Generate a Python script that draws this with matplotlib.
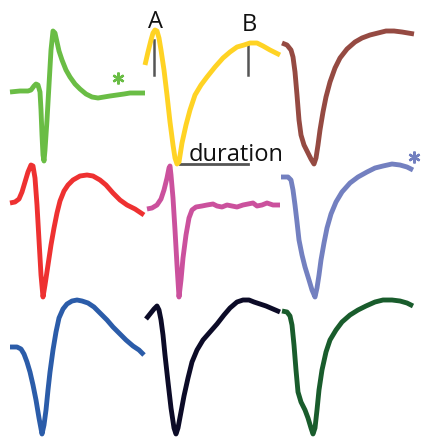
import numpy as np
import matplotlib.pyplot as plt

# waveform traces, (x, y) in canvas pixel units (y grows downward)
green_x = [10, 20, 28, 31, 34, 36, 38, 40, 41, 42, 43, 44, 45, 47, 49, 51, 53, 55, 57, 59, 62, 66, 70, 75, 80, 86, 92, 98, 104, 110, 117, 124, 130, 137, 145]
green_y = [92, 91, 91, 90, 86, 84, 85, 92, 110, 135, 155, 161, 150, 120, 85, 50, 31, 33, 42, 51, 60, 70, 77, 84, 89, 94, 97, 98, 97, 96, 95, 94, 93, 93, 93]

yellow_x = [145, 148, 151, 153, 155, 157, 159, 161, 164, 167, 170, 173, 175, 177, 179, 182, 186, 190, 195, 201, 207, 215, 223, 230, 237, 244, 250, 257, 263, 270, 280]
yellow_y = [65, 52, 40, 33, 30, 31, 38, 50, 70, 95, 122, 145, 158, 164, 162, 143, 125, 110, 95, 85, 77, 67, 58, 52, 47, 45, 43, 43, 46, 50, 55]

brown_x = [282, 287, 291, 293, 295, 297, 299, 301, 304, 308, 311, 314, 316, 318, 320, 323, 326, 330, 335, 340, 347, 355, 362, 370, 378, 386, 394, 402, 414]
brown_y = [43, 45, 50, 57, 72, 95, 120, 135, 145, 153, 159, 164, 158, 145, 130, 112, 97, 82, 68, 58, 49, 42, 38, 35, 33, 31, 31, 32, 34]

red_x = [10, 15, 19, 22, 25, 28, 31, 33, 35, 37, 39, 41, 43, 45, 48, 51, 54, 57, 60, 64, 68, 73, 80, 87, 93, 100, 106, 113, 120, 127, 135, 144]
red_y = [203, 202, 199, 192, 182, 172, 165, 166, 178, 205, 240, 275, 297, 285, 265, 245, 228, 213, 201, 191, 185, 180, 176, 175, 176, 180, 185, 193, 200, 205, 209, 215]

pink_x = [147, 152, 157, 161, 164, 167, 169, 170, 171, 173, 175, 177, 179, 181, 183, 186, 189, 192, 196, 202, 207, 213, 217, 222, 227, 232, 237, 243, 248, 253, 257, 262, 267, 273, 280]
pink_y = [209, 208, 205, 199, 190, 178, 168, 166, 175, 198, 230, 265, 297, 280, 258, 235, 218, 210, 207, 206, 205, 204, 206, 207, 205, 206, 207, 205, 204, 203, 206, 205, 203, 205, 205]

lilac_x = [281, 288, 291, 293, 295, 297, 299, 302, 305, 309, 312, 315, 317, 319, 321, 324, 327, 331, 336, 342, 350, 358, 367, 375, 383, 392, 400, 407, 413]
lilac_y = [177, 177, 180, 190, 205, 222, 240, 255, 267, 280, 290, 297, 288, 275, 260, 243, 228, 214, 202, 192, 183, 177, 172, 168, 166, 164, 165, 167, 170]

blue_x = [10, 17, 21, 24, 27, 30, 33, 36, 39, 42, 44, 46, 48, 50, 53, 56, 59, 63, 67, 72, 77, 82, 88, 94, 100, 107, 113, 120, 126, 133, 139, 144]
blue_y = [347, 347, 349, 354, 362, 372, 385, 400, 418, 434, 425, 410, 390, 372, 350, 332, 318, 309, 304, 301, 300, 301, 303, 307, 313, 320, 327, 334, 340, 346, 350, 355]

navy_x = [146, 150, 154, 157, 159, 161, 163, 165, 168, 171, 174, 176, 178, 181, 184, 188, 192, 197, 203, 210, 217, 224, 230, 237, 243, 249, 254, 260, 266, 273, 280]
navy_y = [319, 314, 309, 306, 310, 320, 335, 355, 382, 408, 428, 434, 428, 412, 396, 378, 362, 350, 340, 332, 324, 315, 308, 302, 300, 300, 302, 304, 306, 309, 312]

dkgreen_x = [282, 287, 290, 292, 294, 296, 298, 301, 305, 308, 311, 313, 315, 317, 319, 322, 326, 330, 336, 342, 350, 358, 366, 375, 383, 392, 400, 407, 413]
dkgreen_y = [311, 312, 316, 325, 345, 370, 392, 402, 410, 418, 428, 434, 428, 410, 390, 370, 352, 340, 330, 322, 315, 310, 306, 302, 300, 300, 301, 303, 306]

traces = [
    (green_x, green_y, '#6abd45'),
    (yellow_x, yellow_y, '#ffd324'),
    (brown_x, brown_y, '#954a42'),
    (red_x, red_y, '#ee3131'),
    (pink_x, pink_y, '#cb519d'),
    (lilac_x, lilac_y, '#7380c0'),
    (blue_x, blue_y, '#2b5ca9'),
    (navy_x, navy_y, '#0c0b27'),
    (dkgreen_x, dkgreen_y, '#195c2c'),
]

# asterisks flagging two of the units
star_x = [118, 414]
star_y = [78, 157]
star_c = ['#6abd45', '#7380c0']

# A / B markers and duration bar
tick_x = [154, 248]
tick_top = [40, 43]
tick_bot = [75, 75]
tick_lbl = ['A', 'B']
dur_x = [180, 248]
dur_y = 164

fig = plt.figure(figsize=(4.24, 4.38), dpi=100)
ax = fig.add_axes([0, 0, 1, 1])
ax.set_xlim(0, 424)
ax.set_ylim(438, 0)
ax.axis('off')

for i in range(2):
    ax.plot([tick_x[i], tick_x[i]], [tick_top[i], tick_bot[i]], color='#555555', lw=1.8, zorder=1)
    ax.text(tick_x[i] + 1, tick_top[i] - 12, tick_lbl[i], ha='center', va='baseline',
            fontsize=17, family='Open Sans', color='#111111')
ax.plot(dur_x, [dur_y, dur_y], color='#555555', lw=2, zorder=1)
ax.text(dur_x[0] + 9, dur_y - 3, 'duration', ha='left', va='baseline',
        fontsize=17, family='Open Sans', color='#111111')

for xs, ys, c in traces:
    ax.plot(xs, ys, color=c, lw=3.5, solid_capstyle='butt', solid_joinstyle='round', zorder=3)

for x, y, c in zip(star_x, star_y, star_c):
    ax.plot(x, y, marker=(6, 2, 0), ms=8.5, mew=1.7, color=c, zorder=4)

fig.savefig('out.png', dpi=100)
